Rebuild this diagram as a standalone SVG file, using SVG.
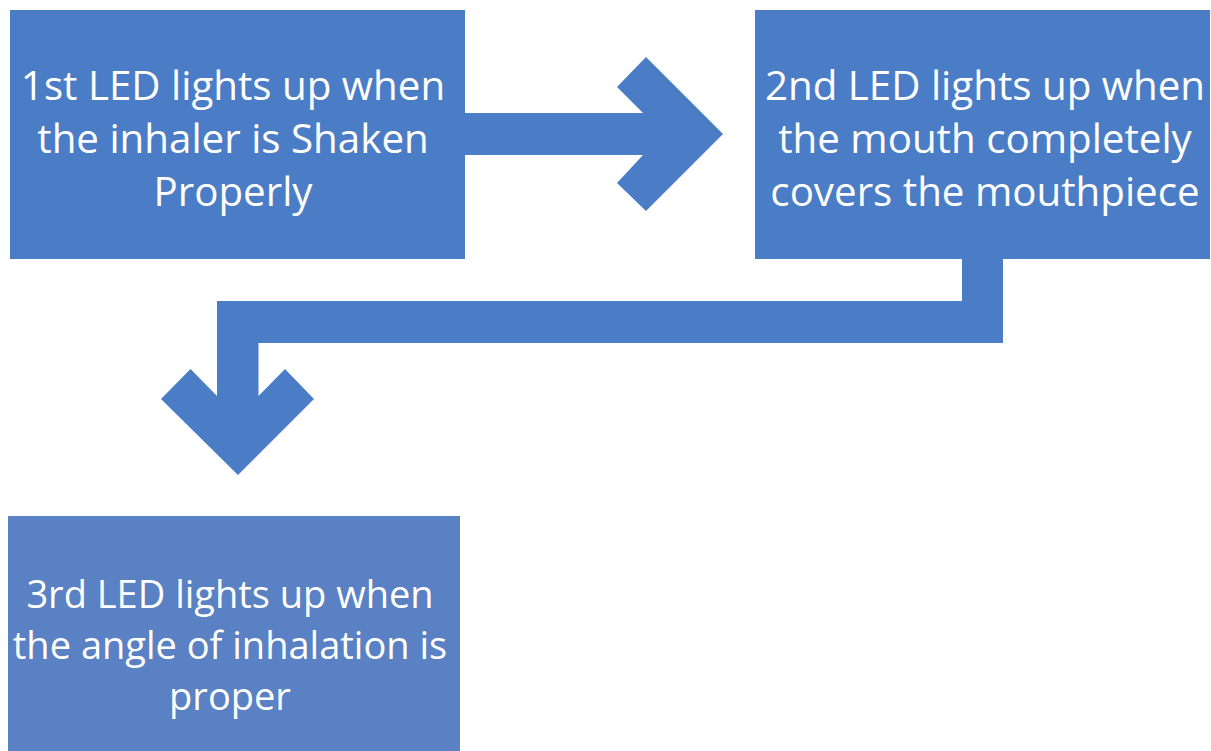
<svg xmlns="http://www.w3.org/2000/svg" width="1211" height="751" viewBox="0 0 1211 751">
<style>
.box{fill:#4b7dc7}
.box3{fill:#5a81c3}
.conn{fill:#4b7dc7}
text{font-family:"Open Sans","Liberation Sans",sans-serif;font-size:38px;fill:#ffffff;text-anchor:middle}
.big{font-size:40.3px}
</style>
<rect width="1211" height="751" fill="#ffffff"/>
<g id="connectors">
<polygon class="conn" points="465,113 643,113 617,87 646,57 723,134 646,211 617,183 643,155 465,155"/>
<polygon class="conn" points="962,258 1003,258 1003,343 258.5,343 258.5,396 285,369 314,399 238,475 161,399 190.5,369 217,396 217,301 962,301"/>
</g>
<g id="node1">
<rect class="box" x="10" y="10" width="455" height="249"/>
<text class="big" x="233" y="100">1st LED lights up when</text>
<text class="big" x="233" y="153">the inhaler is Shaken</text>
<text class="big" x="233" y="206">Properly</text>
</g>
<g id="node2">
<rect class="box" x="755" y="10" width="455" height="249"/>
<text class="big" x="985" y="100">2nd LED lights up when</text>
<text class="big" x="985" y="153">the mouth completely</text>
<text class="big" x="985" y="206">covers the mouthpiece</text>
</g>
<g id="node3">
<rect class="box3" x="8" y="516" width="452" height="235"/>
<text x="230" y="608">3rd LED lights up when</text>
<text x="230" y="659">the angle of inhalation is</text>
<text x="230" y="710">proper</text>
</g>
</svg>
